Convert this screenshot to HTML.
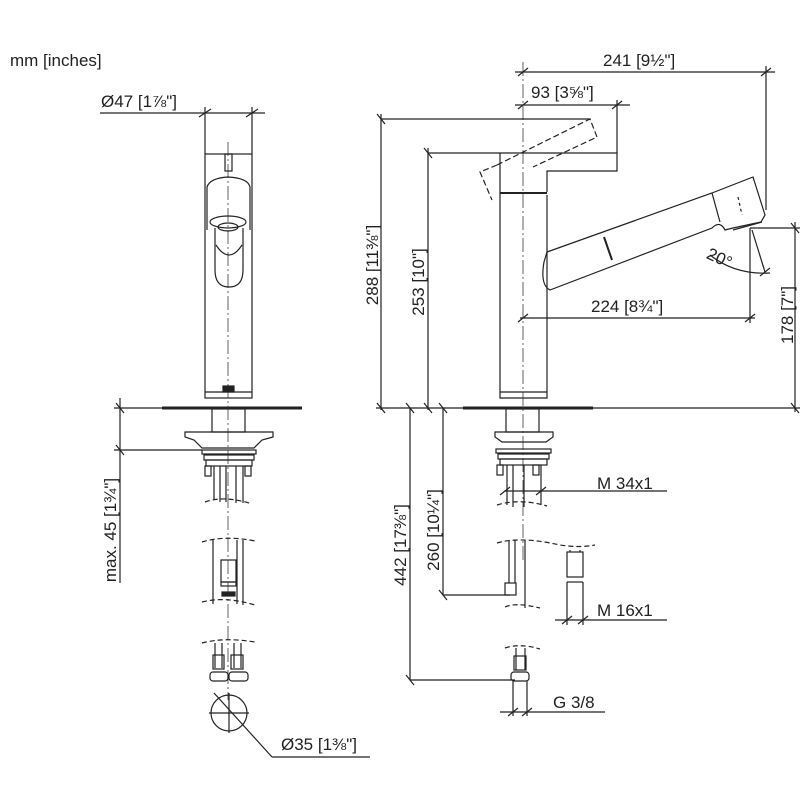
<!DOCTYPE html>
<html><head><meta charset="utf-8"><style>
body{margin:0;background:#fff}
svg{display:block}
text{font-family:"Liberation Sans",sans-serif;fill:#222}
</style></head><body>
<svg width="800" height="800" viewBox="0 0 800 800" xmlns="http://www.w3.org/2000/svg">
<g stroke="#222" stroke-width="1.2" fill="none">
<!-- LEFT VIEW -->
<line x1="100" y1="113" x2="265" y2="113"/>
<line x1="205" y1="107" x2="205" y2="154"/><line x1="252" y1="107" x2="252" y2="154"/>
<line x1="199" y1="117" x2="211" y2="109"/><line x1="246" y1="117" x2="258" y2="109"/>
<rect x="205" y="154" width="47" height="244"/>
<line x1="205" y1="392" x2="252" y2="392"/>
<rect x="225" y="154" width="7" height="17"/>
<path d="M207 230 L207 187 Q210 178 228 177 Q248 178 250 187 L250 230"/>
<ellipse cx="228" cy="222" rx="18" ry="6"/>
<ellipse cx="228" cy="227" rx="10" ry="4"/>
<path d="M215 228 L215 270 Q215 287 229 287 Q243 287 243 270 L243 228"/>
<path d="M216 245 Q229 265 242 245"/>
<line x1="228" y1="142" x2="228" y2="700" stroke-dasharray="14,3,2,3" stroke-width="0.7"/>
<rect x="223" y="386" width="11" height="6" fill="#222"/>
<line x1="162" y1="408" x2="302" y2="408" stroke-width="3"/>
<rect x="212" y="409" width="33" height="23"/>
<path d="M185 432 L273 432 L273 437 L262 440 L254 448 L202 448 L194 440 L185 437 Z"/>
<rect x="202" y="450" width="54" height="4"/><rect x="204" y="455" width="50" height="5"/>
<rect x="206" y="460" width="46" height="6"/>
<rect x="205" y="466" width="6" height="10"/><rect x="245" y="466" width="6" height="10"/>
<line x1="214" y1="466" x2="214" y2="500"/><line x1="220" y1="466" x2="220" y2="502"/><line x1="226" y1="466" x2="226" y2="502"/><line x1="236" y1="466" x2="236" y2="503"/><line x1="243" y1="466" x2="243" y2="503"/>
<path d="M205 502 Q225 495 252 504" stroke-dasharray="5,3"/>
<path d="M202 542 Q225 535 255 541" stroke-dasharray="5,3"/>
<path d="M202 602 Q225 596 255 605" stroke-dasharray="5,3"/>
<line x1="213" y1="540" x2="213" y2="604"/><line x1="243" y1="540" x2="243" y2="605"/><line x1="237" y1="540" x2="237" y2="604"/>
<rect x="221" y="560" width="15" height="22"/><rect x="221" y="582" width="15" height="4"/><rect x="222" y="592" width="13" height="4" fill="#222"/>
<path d="M202 643 Q225 637 255 642" stroke-dasharray="5,3"/>
<line x1="215" y1="643" x2="215" y2="668"/><line x1="222" y1="643" x2="222" y2="668"/><line x1="234" y1="643" x2="234" y2="668"/><line x1="241" y1="643" x2="241" y2="668"/>
<rect x="213" y="655" width="11" height="14"/><rect x="231" y="655" width="12" height="14"/>
<rect x="210" y="672" width="18" height="9" rx="3"/><rect x="229" y="672" width="19" height="9" rx="3"/>
<circle cx="229" cy="713" r="18"/>
<line x1="209" y1="713" x2="249" y2="713"/><line x1="229" y1="693" x2="229" y2="733"/>
<line x1="214" y1="693" x2="272" y2="757"/><line x1="272" y1="757" x2="370" y2="757"/>
<line x1="120" y1="398" x2="120" y2="583"/>
<line x1="114" y1="408" x2="212" y2="408"/><line x1="114" y1="450" x2="202" y2="450"/>
<line x1="116" y1="403" x2="124" y2="413"/><line x1="116" y1="445" x2="124" y2="455"/>
<!-- RIGHT VIEW -->
<line x1="523" y1="62" x2="523" y2="560" stroke-dasharray="14,3,2,3" stroke-width="0.7"/>
<line x1="515" y1="72" x2="775" y2="72"/><line x1="766" y1="66" x2="766" y2="210"/>
<line x1="518" y1="76" x2="528" y2="68"/><line x1="761" y1="76" x2="771" y2="68"/>
<line x1="515" y1="105" x2="630" y2="105"/><line x1="617" y1="100" x2="617" y2="153"/>
<line x1="518" y1="109" x2="528" y2="101"/><line x1="612" y1="109" x2="622" y2="101"/>
<line x1="381" y1="119" x2="590" y2="119"/><line x1="381" y1="114" x2="381" y2="410"/>
<line x1="377" y1="114" x2="385" y2="124"/>
<line x1="428" y1="153" x2="500" y2="153"/><line x1="428" y1="148" x2="428" y2="410"/>
<line x1="424" y1="148" x2="432" y2="158"/>
<path d="M500 153 L617 153 L617 171 L547 171 L547 192"/>
<path d="M500 153 L500 398 L547 398 L547 195"/>
<line x1="500" y1="193" x2="547" y2="193" stroke-width="2"/>
<line x1="500" y1="392" x2="547" y2="392"/>
<path d="M497 165 L590 119 L597 137 L533 167" stroke-dasharray="6,3"/>
<path d="M497 165 L480 172 L492 200" stroke-dasharray="6,3"/>
<path d="M547 252 L712 193 L753 177 L765 215 L761 222 L733 228 L725 230 Q720 220 712 228 L550 290 Q540 285 544 262 Z"/>
<line x1="712" y1="193" x2="720" y2="222"/>
<line x1="604" y1="237" x2="612" y2="260" stroke-width="2"/>
<line x1="738" y1="197" x2="742" y2="215" stroke-dasharray="3,3"/>
<path d="M733 230 L762 222"/>
<line x1="520" y1="318" x2="755" y2="318"/><line x1="750" y1="228" x2="750" y2="323"/>
<line x1="518" y1="322" x2="528" y2="314"/><line x1="745" y1="322" x2="755" y2="314"/>
<line x1="750" y1="228" x2="800" y2="228"/><line x1="795" y1="222" x2="795" y2="412"/>
<line x1="791" y1="223" x2="799" y2="233"/><line x1="791" y1="403" x2="799" y2="413"/>
<line x1="752" y1="230" x2="765" y2="272"/>
<path d="M710 255 Q735 275 770 273"/>
<line x1="760" y1="276" x2="770" y2="268"/>
<line x1="376" y1="408" x2="800" y2="408"/>
<line x1="463" y1="408" x2="593" y2="408" stroke-width="3"/>
<line x1="377" y1="403" x2="385" y2="413"/><line x1="424" y1="403" x2="432" y2="413"/><line x1="406" y1="403" x2="414" y2="413"/><line x1="439" y1="403" x2="447" y2="413"/>
<line x1="410" y1="408" x2="410" y2="680"/><line x1="443" y1="408" x2="443" y2="595"/>
<line x1="443" y1="595" x2="510" y2="595"/><line x1="410" y1="680" x2="515" y2="680"/>
<line x1="439" y1="590" x2="447" y2="600"/><line x1="406" y1="675" x2="414" y2="685"/>
<rect x="506" y="409" width="33" height="23"/>
<path d="M495 432 L553 432 L553 437 L546 442 L502 442 L495 437 Z"/>
<rect x="496" y="449" width="55" height="4"/><rect x="498" y="454" width="51" height="5"/><rect x="500" y="459" width="47" height="6"/>
<rect x="497" y="465" width="6" height="10"/><rect x="533" y="465" width="6" height="10"/>
<line x1="507" y1="465" x2="507" y2="505"/><line x1="513" y1="465" x2="513" y2="507"/><line x1="524" y1="465" x2="524" y2="507"/><line x1="541" y1="465" x2="541" y2="505"/>
<path d="M497 505 Q520 498 547 506" stroke-dasharray="5,3"/>
<line x1="505" y1="491" x2="667" y2="491"/>
<line x1="500" y1="495" x2="510" y2="487"/><line x1="536" y1="495" x2="546" y2="487"/>
<path d="M497 543 Q520 536 560 545 Q580 548 595 545" stroke-dasharray="5,3"/>
<line x1="509" y1="540" x2="509" y2="583"/><line x1="515" y1="540" x2="515" y2="583"/><line x1="525" y1="540" x2="525" y2="608"/>
<rect x="505" y="583" width="11" height="12"/>
<path d="M505 607 Q515 602 540 608" stroke-dasharray="5,3"/>
<rect x="567" y="552" width="16" height="25"/><line x1="567" y1="582" x2="583" y2="582"/>
<line x1="570" y1="550" x2="570" y2="552"/><line x1="580" y1="550" x2="580" y2="552"/>
<line x1="567" y1="582" x2="567" y2="625"/><line x1="583" y1="582" x2="583" y2="625"/>
<line x1="555" y1="620" x2="667" y2="620"/>
<line x1="562" y1="624" x2="572" y2="616"/><line x1="578" y1="624" x2="588" y2="616"/>
<path d="M505 648 Q520 643 540 649" stroke-dasharray="5,3"/>
<line x1="516" y1="648" x2="516" y2="670"/><line x1="525" y1="648" x2="525" y2="670"/>
<rect x="514" y="656" width="12" height="14"/>
<rect x="511" y="672" width="18" height="9" rx="3"/>
<line x1="513" y1="681" x2="513" y2="716"/><line x1="527" y1="681" x2="527" y2="716"/>
<line x1="500" y1="712" x2="605" y2="712"/>
<line x1="508" y1="716" x2="518" y2="708"/><line x1="522" y1="716" x2="532" y2="708"/>
</g>
<g font-size="17">
<text x="10" y="66">mm [inches]</text>
<text x="101" y="107">Ø47 [1⅞"]</text>
<text x="281" y="750">Ø35 [1⅜"]</text>
<text x="603" y="66">241 [9½"]</text>
<text x="531" y="98">93 [3⅝"]</text>
<text x="591" y="312">224 [8¾"]</text>
<text x="706" y="265" transform="rotate(25 722 260)">20°</text>
<text x="597" y="489">M 34x1</text>
<text x="597" y="616">M 16x1</text>
<text x="553" y="708">G 3/8</text>
<text transform="translate(378,265) rotate(-90)" text-anchor="middle">288 [11⅜"]</text>
<text transform="translate(424,282) rotate(-90)" text-anchor="middle">253 [10"]</text>
<text transform="translate(793,315) rotate(-90)" text-anchor="middle">178 [7"]</text>
<text transform="translate(116,530) rotate(-90)" text-anchor="middle">max. 45 [1¾"]</text>
<text transform="translate(406,545) rotate(-90)" text-anchor="middle">442 [17⅜"]</text>
<text transform="translate(439,530) rotate(-90)" text-anchor="middle">260 [10¼"]</text>
</g>
</svg>
</body></html>
